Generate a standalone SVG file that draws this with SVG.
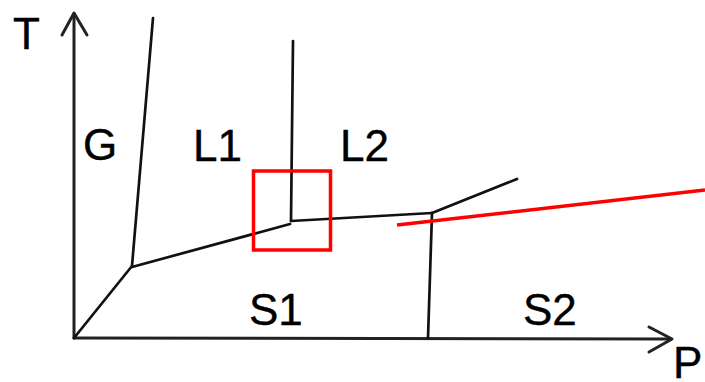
<svg xmlns="http://www.w3.org/2000/svg" width="705" height="382" viewBox="0 0 705 382">
<style>
.ax{fill:none;stroke:#222;stroke-width:3;stroke-linecap:round;stroke-linejoin:round}
.ln{fill:none;stroke:#111;stroke-width:2.7;stroke-linecap:round;stroke-linejoin:round}
.red{fill:none;stroke:#ff0000;stroke-width:3.5}
.lb{font-family:"Liberation Sans",Arial,sans-serif;font-size:44px;fill:#000;stroke:#000;stroke-width:0.4}
</style>
<rect width="705" height="382" fill="#fff"/>
<g id="connectors">
<path class="ax" d="M74,338 L74,14"/>
<path class="ax" d="M62,35 L74,13 L87,35"/>
<path class="ax" d="M74,338 L671,339"/>
<path class="ax" d="M649,327 L672,339 L649,352"/>
<path class="ln" d="M74,338 L132,266"/>
<path class="ln" d="M132,266 L153,18"/>
<path class="ln" d="M132,267 L290,224"/>
<path class="ln" d="M293,41 L291,221"/>
<path class="ln" d="M291,221 L432,213"/>
<path class="ln" d="M432,213 L517,179"/>
<path class="ln" d="M432,213 L428,338"/>
<path class="red" d="M397,225 L705,190"/>
</g>
<g id="highlight"><rect class="red" x="253.5" y="171" width="77" height="79"/></g>
<g id="label-T"><text class="lb" x="13" y="49">T</text></g>
<g id="label-P"><text class="lb" x="673" y="378">P</text></g>
<g id="node-G"><text class="lb" x="83" y="160">G</text></g>
<g id="node-L1"><text class="lb" x="193" y="161">L1</text></g>
<g id="node-L2"><text class="lb" x="340" y="161">L2</text></g>
<g id="node-S1"><text class="lb" x="249" y="325">S1</text></g>
<g id="node-S2"><text class="lb" x="523" y="325">S2</text></g>
</svg>
